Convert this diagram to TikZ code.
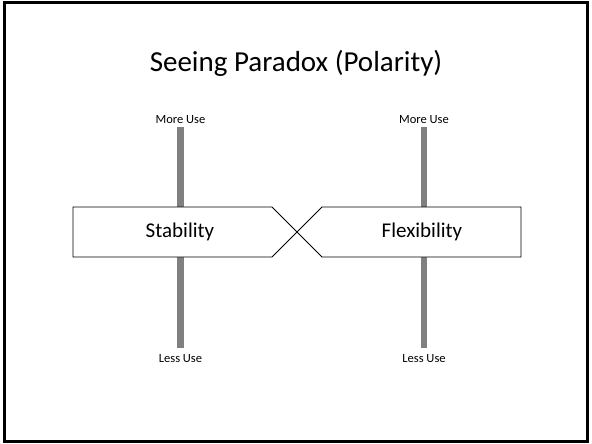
\documentclass[tikz,border=0pt]{standalone}
\usepackage{fontspec}
\setmainfont{Carlito}
\usepackage{tikz}
\definecolor{bargray}{RGB}{128,128,128}

\begin{document}
\begin{tikzpicture}[x=1pt,y=-1pt]
\tikzstyle{every node}+=[inner sep=0pt]
\tikzstyle{small}=[anchor=base,font=\fontsize{12.5}{14}\selectfont]
\tikzstyle{boxtext}=[anchor=base,font=\fontsize{21}{25}\selectfont]
\useasboundingbox (0,0) rectangle (592,444);
\draw [black,line width=2.2pt] (4.5,2.5) rectangle (587.5,441.5);
\draw (296,72) node [anchor=base,font=\fontsize{29}{34}\selectfont] (title) {Seeing Paradox (Polarity)};
% labels
\draw (180.5,124) node [small] (moreS) {More Use};
\draw (180.5,362) node [small] (lessS) {Less Use};
\draw (424,124) node [small] (moreF) {More Use};
\draw (424,362) node [small] (lessF) {Less Use};
% bars
\draw [bargray,line width=6.5pt] (180.5,127) -- (180.5,348);
\draw [bargray,line width=6.5pt] (424,127) -- (424,348);
% boxes
\draw [black,fill=white,line width=0.8pt] (73,207) -- (272,207) -- (297,232) -- (272,257) -- (73,257) -- cycle;
\draw [black,fill=white,line width=0.8pt] (297,232) -- (322,207) -- (521,207) -- (521,257) -- (322,257) -- cycle;
\draw (180,237) node [boxtext] (stab) {Stability};
\draw (422,237) node [boxtext] (flex) {Flexibility};
\end{tikzpicture}
\end{document}
